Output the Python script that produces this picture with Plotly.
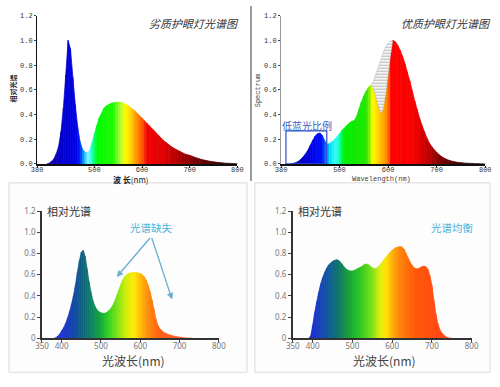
import plotly.graph_objects as go

# ---------------- data ----------------
# Top-left: 劣质护眼灯光谱图 (380-800 nm, step 5)
tl_wl = list(range(380, 805, 5))
tl_val = [0, 0, 0, 0, 0, 0.005, 0.02, 0.04, 0.08, 0.14,
          0.26, 0.45, 0.72, 1.0, 0.93, 0.70, 0.48, 0.30, 0.18, 0.12,
          0.095, 0.09, 0.11, 0.17, 0.24, 0.31, 0.37, 0.41, 0.45, 0.47,
          0.48, 0.49, 0.495, 0.50, 0.50, 0.50, 0.495, 0.485, 0.475, 0.46,
          0.445, 0.43, 0.41, 0.39, 0.37, 0.35, 0.33, 0.31, 0.29, 0.27,
          0.25, 0.23, 0.21, 0.19, 0.175, 0.16, 0.145, 0.13, 0.12, 0.11,
          0.10, 0.09, 0.08, 0.075, 0.07, 0.062, 0.055, 0.048, 0.042, 0.036,
          0.031, 0.027, 0.023, 0.02, 0.017, 0.014, 0.012, 0.01, 0.008, 0.006,
          0.005, 0.004, 0.003, 0.002, 0.001]

# Top-right: 优质护眼灯光谱图 envelope (380-800 nm, step 5)
tr_wl = list(range(380, 805, 5))
tr_env = [0, 0, 0, 0, 0, 0.005, 0.01, 0.02, 0.035, 0.055,
          0.08, 0.11, 0.15, 0.19, 0.225, 0.245, 0.25, 0.23, 0.185, 0.16,
          0.165, 0.18, 0.20, 0.22, 0.245, 0.27, 0.29, 0.31, 0.33, 0.345,
          0.35, 0.38, 0.44, 0.50, 0.55, 0.59, 0.62, 0.64, 0.67, 0.73,
          0.79, 0.85, 0.90, 0.95, 0.98, 0.995, 1.0, 0.99, 0.96, 0.92,
          0.87, 0.81, 0.74, 0.67, 0.59, 0.51, 0.44, 0.37, 0.31, 0.26,
          0.21, 0.17, 0.14, 0.115, 0.095, 0.075, 0.06, 0.048, 0.038, 0.03,
          0.024, 0.019, 0.015, 0.012, 0.01, 0.008, 0.006, 0.005, 0.004, 0.003,
          0.002, 0.002, 0.001, 0.001, 0]
# dip under the hatched area
tr_dip_wl = [565, 570, 575, 580, 585, 590, 595, 600, 605, 610]
tr_dip_val = [0.64, 0.61, 0.55, 0.47, 0.41, 0.44, 0.55, 0.70, 0.87, 1.0]

# Bottom-left: 光谱缺失 (350-800 nm, step 5)
bl_wl = list(range(350, 805, 5))
bl_val = [0, 0, 0, 0, 0, 0, 0,
          0.005, 0.02, 0.04, 0.07, 0.10, 0.14, 0.19, 0.25, 0.32, 0.40,
          0.50, 0.62, 0.73, 0.81, 0.83, 0.77, 0.65, 0.53, 0.43, 0.35,
          0.30, 0.27, 0.25, 0.24, 0.235, 0.235, 0.245, 0.26, 0.28, 0.31,
          0.35, 0.40, 0.45, 0.50, 0.55, 0.58, 0.60, 0.61, 0.615, 0.62,
          0.62, 0.62, 0.615, 0.61, 0.60, 0.58, 0.55, 0.50, 0.44, 0.36,
          0.27, 0.18, 0.12, 0.09, 0.07, 0.055, 0.045, 0.038, 0.032, 0.026,
          0.021, 0.017, 0.014, 0.011, 0.008, 0.006, 0.004, 0.003, 0.002, 0.001,
          0, 0, 0, 0, 0, 0, 0, 0, 0, 0, 0, 0, 0, 0]

# Bottom-right: 光谱均衡 (350-800 nm, step 5)
br_wl = list(range(350, 805, 5))
br_val = [0, 0, 0, 0, 0, 0, 0, 0, 0,
          0.02, 0.12, 0.24, 0.34, 0.43, 0.51, 0.57, 0.62, 0.66, 0.69,
          0.71, 0.725, 0.735, 0.74, 0.735, 0.72, 0.695, 0.67, 0.65, 0.64,
          0.635, 0.635, 0.64, 0.65, 0.66, 0.67, 0.68, 0.695, 0.70, 0.695,
          0.68, 0.665, 0.655, 0.66, 0.675, 0.695, 0.72, 0.745, 0.77, 0.79,
          0.81, 0.83, 0.845, 0.855, 0.86, 0.865, 0.86, 0.84, 0.80, 0.76,
          0.72, 0.69, 0.665, 0.655, 0.655, 0.665, 0.675, 0.68, 0.675, 0.65,
          0.59, 0.50, 0.36, 0.23, 0.14, 0.08, 0.05, 0.03, 0.015, 0.006,
          0.002,
          0, 0, 0, 0, 0, 0, 0, 0, 0, 0, 0]

top_y_ticks = [0, 0.2, 0.4, 0.6, 0.8, 1.0, 1.2]
top_y_text = ["0.0", "0.2", "0.4", "0.6", "0.8", "1.0", "1.2"]
top_x_ticks = [380, 500, 600, 700, 800]
bot_y_text = ["0", "0.2", "0.4", "0.6", "0.8", "1.0", "1.2"]
bot_x_ticks = [350, 400, 500, 600, 700, 800]

# ---------------- colour maps (style) ----------------
def make_cmap(stops):
    def f(w):
        if w <= stops[0][0]:
            c = stops[0][1]
            return "rgb(%d,%d,%d)" % c
        for (w0, c0), (w1, c1) in zip(stops, stops[1:]):
            if w <= w1:
                t = (w - w0) / (w1 - w0)
                c = tuple(round(a + (b - a) * t) for a, b in zip(c0, c1))
                return "rgb(%d,%d,%d)" % c
        return "rgb(%d,%d,%d)" % stops[-1][1]
    return f

tl_cmap = make_cmap([(380, (40, 0, 110)), (405, (30, 0, 150)), (420, (10, 0, 190)),
                     (440, (0, 0, 210)), (465, (0, 0, 235)), (472, (0, 60, 255)),
                     (479, (0, 170, 255)), (486, (140, 245, 255)), (493, (60, 255, 230)),
                     (500, (0, 255, 120)), (508, (0, 250, 0)), (540, (30, 250, 0)),
                     (555, (170, 255, 60)), (565, (255, 255, 0)), (578, (255, 210, 0)),
                     (590, (255, 140, 0)), (604, (255, 70, 0)), (610, (240, 0, 0)),
                     (645, (225, 0, 0)), (680, (170, 0, 0)), (720, (110, 0, 0)),
                     (760, (60, 0, 0)), (800, (30, 0, 0))])

tr_cmap = make_cmap([(380, (30, 0, 120)), (410, (10, 0, 180)), (440, (0, 0, 225)),
                     (466, (0, 20, 250)), (474, (0, 140, 255)), (481, (0, 225, 255)),
                     (495, (60, 255, 240)), (503, (0, 255, 130)), (510, (0, 240, 0)),
                     (555, (30, 230, 0)), (563, (130, 240, 0)), (568, (255, 255, 0)),
                     (578, (255, 220, 0)), (590, (255, 170, 0)), (601, (255, 120, 0)),
                     (607, (255, 0, 0)), (650, (250, 0, 0)), (680, (200, 0, 0)),
                     (710, (120, 0, 0)), (750, (60, 0, 0)), (800, (20, 0, 0))])

bl_cmap = make_cmap([(380, (40, 40, 200)), (400, (30, 50, 210)), (430, (20, 70, 170)),
                     (450, (15, 95, 130)), (470, (15, 120, 110)), (500, (20, 170, 60)),
                     (520, (50, 210, 30)), (545, (130, 230, 20)), (565, (210, 240, 10)),
                     (585, (255, 235, 0)), (600, (255, 190, 0)), (620, (255, 140, 10)),
                     (650, (255, 95, 20)), (700, (255, 90, 40)), (800, (255, 110, 60))])

br_cmap = make_cmap([(390, (30, 30, 220)), (410, (25, 55, 200)), (440, (15, 90, 160)),
                     (465, (15, 115, 110)), (490, (20, 160, 60)), (520, (40, 200, 30)),
                     (550, (120, 225, 20)), (570, (220, 240, 10)), (585, (255, 230, 0)),
                     (600, (255, 180, 0)), (620, (255, 130, 10)), (660, (255, 90, 10)),
                     (720, (255, 70, 20)), (800, (255, 90, 50))])

fig = go.Figure()

def add_spectrum(wl, vals, cmap, xa, ya):
    for i in range(len(wl) - 1):
        w0, w1 = wl[i], wl[i + 1]
        v0, v1 = vals[i], vals[i + 1]
        if v0 == 0 and v1 == 0:
            continue
        c = cmap((w0 + w1) / 2)
        fig.add_trace(go.Scatter(x=[w0, w0, w1, w1], y=[0, v0, v1, 0], fill="toself",
                                 fillcolor=c, mode="lines", line=dict(color=c, width=0.7),
                                 xaxis=xa, yaxis=ya, hoverinfo="skip", showlegend=False))

# inner (coloured) curve of the top-right panel
dip_map = dict(zip(tr_dip_wl, tr_dip_val))
tr_inner = [dip_map.get(w, v) for w, v in zip(tr_wl, tr_env)]

add_spectrum(tl_wl, tl_val, tl_cmap, "x", "y")
add_spectrum(tr_wl, tr_inner, tr_cmap, "x2", "y2")
add_spectrum(bl_wl, bl_val, bl_cmap, "x3", "y3")
add_spectrum(br_wl, br_val, br_cmap, "x4", "y4")

# hatched missing area in top-right panel
env_map = dict(zip(tr_wl, tr_env))
hx = tr_dip_wl + tr_dip_wl[::-1]
hy = [env_map[w] for w in tr_dip_wl] + tr_dip_val[::-1]
fig.add_trace(go.Scatter(x=hx, y=hy, fill="toself", mode="lines",
                         line=dict(color="rgba(150,150,150,0.6)", width=0.5),
                         fillcolor="white",
                         fillpattern=dict(shape="-", fgcolor="#7a7a7a", bgcolor="white",
                                          size=3, solidity=0.45),
                         xaxis="x2", yaxis="y2", hoverinfo="skip", showlegend=False))

mono = "Liberation Mono"
cjk = "Noto Sans CJK SC"

top_x = dict(range=[380, 800], tickvals=top_x_ticks, ticks="outside", ticklen=2,
             tickcolor="#222", showline=True, linecolor="#111", linewidth=2,
             showgrid=False, zeroline=False, fixedrange=True, ticklabelstandoff=-4,
             tickfont=dict(family=mono, size=7, color="#333"))
top_y = dict(range=[0, 1.2], tickvals=top_y_ticks, ticktext=top_y_text, ticks="outside",
             ticklen=2, tickcolor="#444", showline=True, linewidth=1,
             showgrid=False, zeroline=False, fixedrange=True,
             tickfont=dict(family=mono, size=7, color="#333"))
bot_x = dict(range=[350, 800], tickvals=bot_x_ticks, ticks="outside", ticklen=3,
             tickcolor="#444", showline=True, linecolor="#333", linewidth=1.5,
             showgrid=False, zeroline=False, fixedrange=True, ticklabelstandoff=-4,
             tickfont=dict(family="Noto Sans", size=8, color="#777"))
bot_y = dict(range=[0, 1.2], tickvals=top_y_ticks, ticktext=bot_y_text, ticks="outside",
             ticklen=3, tickcolor="#444", showline=True, linecolor="#333", linewidth=1.5,
             showgrid=False, zeroline=False, fixedrange=True,
             tickfont=dict(family="Noto Sans", size=8, color="#777"))

def P(px):
    return px / 500

def Q(py):
    return 1 - py / 387

fig.update_layout(
    width=500, height=387, margin=dict(l=0, r=0, t=0, b=0),
    paper_bgcolor="white", plot_bgcolor="rgba(0,0,0,0)", showlegend=False,
    xaxis=dict(top_x, domain=[P(31), P(237)], anchor="y"),
    yaxis=dict(top_y, domain=[Q(162.5), Q(10)], anchor="x", linecolor="#111"),
    xaxis2=dict(top_x, domain=[P(282), P(492)], anchor="y2"),
    yaxis2=dict(top_y, domain=[Q(162.5), Q(10)], anchor="x2", linecolor="#999"),
    xaxis3=dict(bot_x, domain=[P(36), P(218)], anchor="y3"),
    yaxis3=dict(bot_y, domain=[Q(342), Q(211)], anchor="x3"),
    xaxis4=dict(bot_x, domain=[P(294), P(478)], anchor="y4"),
    yaxis4=dict(bot_y, domain=[Q(342), Q(211)], anchor="x4"),
)

shapes = [
    dict(type="line", xref="paper", yref="paper", x0=P(251), x1=P(251), y0=Q(180), y1=1,
         line=dict(color="#999", width=2)),
    dict(type="rect", xref="paper", yref="paper", x0=P(2), x1=P(247), y0=Q(377), y1=Q(182),
         line=dict(color="#dcdcdc", width=1), fillcolor="#fdfdfd", layer="below"),
    dict(type="rect", xref="paper", yref="paper", x0=P(255), x1=P(497), y0=Q(377), y1=Q(182),
         line=dict(color="#dcdcdc", width=1), fillcolor="#fdfdfd", layer="below"),
    dict(type="rect", xref="x2", yref="y2", x0=390, x1=474, y0=0, y1=0.267,
         line=dict(color="#2a4cc4", width=1.2)),
]
fig.update_layout(shapes=shapes)

ann = [
    dict(text="<i>劣质护眼灯光谱图</i>", x=P(192), y=Q(17), font=dict(family=cjk, size=11, color="#333")),
    dict(text="<i>优质护眼灯光谱图</i>", x=P(452), y=Q(17), font=dict(family=cjk, size=11, color="#333")),
    dict(text="<b>波 长</b>(nm)", x=P(128), y=Q(178.5), font=dict(family=cjk, size=8, color="#222")),
    dict(text="<b>相对光谱</b>", x=P(6), y=Q(85), textangle=-90, font=dict(family=cjk, size=7, color="#222")),
    dict(text="Wavelength(nm)", x=P(385), y=Q(178), font=dict(family=mono, size=7, color="#444")),
    dict(text="Spectrum", x=P(258), y=Q(87), textangle=-90, font=dict(family=mono, size=7, color="#444")),
    dict(text="相对光谱", x=P(64), y=Q(211), font=dict(family=cjk, size=11, color="#333")),
    dict(text="相对光谱", x=P(322), y=Q(211), font=dict(family=cjk, size=11, color="#333")),
    dict(text="光谱缺失", x=P(149), y=Q(228), font=dict(family=cjk, size=10.5, color="#4fb2d6")),
    dict(text="光谱均衡", x=P(458), y=Q(228), font=dict(family=cjk, size=10.5, color="#4fb2d6")),
    dict(text="光波长(nm)", x=P(130), y=Q(365), font=dict(family=cjk, size=12, color="#444")),
    dict(text="光波长(nm)", x=P(388), y=Q(365), font=dict(family=cjk, size=12, color="#444")),
]
annotations = []
for a in ann:
    d = dict(xref="paper", yref="paper", showarrow=False, xanchor="center", yanchor="middle")
    d.update(a)
    annotations.append(d)

annotations.append(dict(text="低蓝光比例", xref="x2", yref="y2", x=434, y=0.31, showarrow=False,
                        font=dict(family=cjk, size=10, color="#3a5cc8")))
for hx_, hy_ in [(540, 0.577), (681, 0.366)]:
    annotations.append(dict(text="", xref="x3", yref="y3", axref="x3", ayref="y3",
                            x=hx_, y=hy_, ax=628, ay=0.96, showarrow=True,
                            arrowhead=2, arrowsize=1, arrowwidth=1.3, arrowcolor="#6aaed0"))
fig.update_layout(annotations=annotations)

fig.write_html("out.html", config={"displayModeBar": False},
               post_script="document.body.style.margin='0';")
